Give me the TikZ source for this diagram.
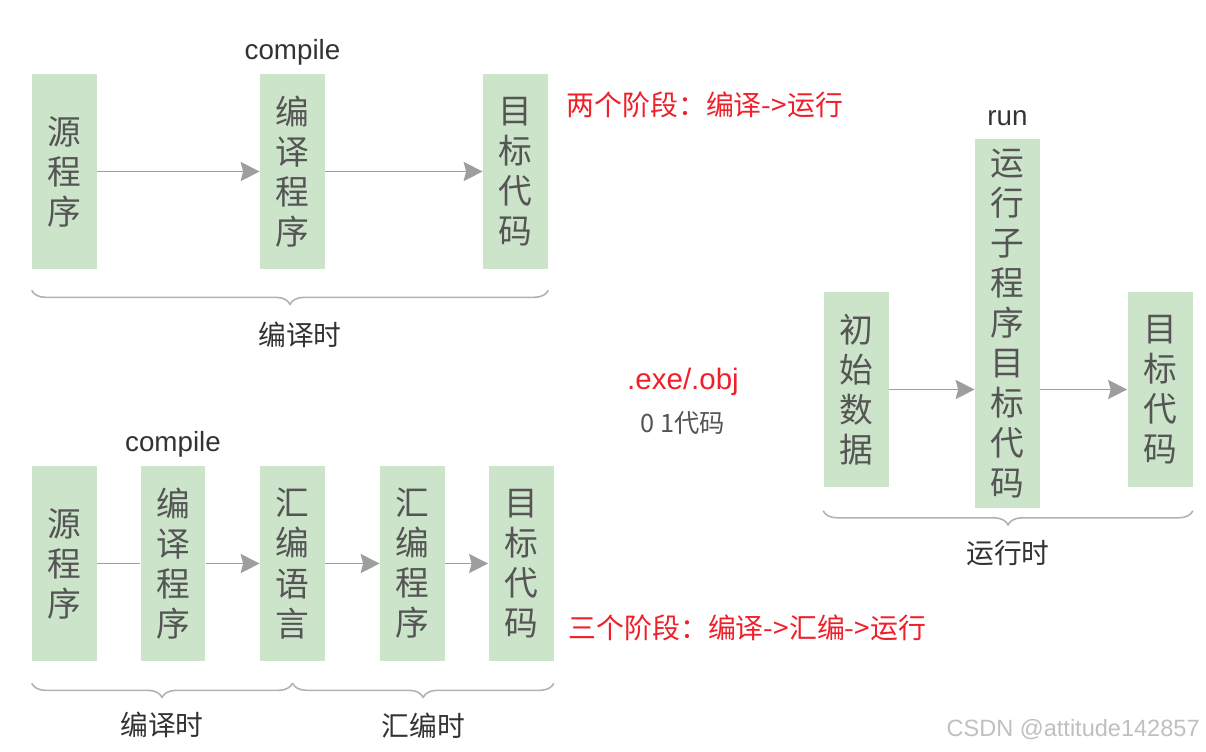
\documentclass[tikz,border=0pt]{standalone}
\usepackage{fontspec}
\setmainfont{Liberation Sans}
\newfontfamily\cjk{Noto Sans CJK SC}
\usetikzlibrary{arrows.meta,positioning,decorations.pathreplacing}
\definecolor{boxgreen}{RGB}{204,228,202}
\definecolor{boxtext}{RGB}{85,85,85}
\definecolor{arrowgray}{RGB}{158,158,158}
\definecolor{bracegray}{RGB}{178,178,178}
\definecolor{labeltext}{RGB}{51,51,51}
\definecolor{notered}{RGB}{240,32,42}
\definecolor{wmgray}{RGB}{192,192,192}

\begin{document}
\begin{tikzpicture}[x=0.02cm,y=-0.02cm,>={Stealth[length=0.38cm,width=0.38cm,inset=0.05cm]},
  stage/.style={fill=boxgreen,minimum width=1.3cm,minimum height=3.9cm,inner sep=0pt,align=center,text=boxtext,font=\cjk\fontsize{19.2}{22.8}\selectfont},
  flow/.style={->,draw=arrowgray,line width=1.1pt},
  span/.style={draw=bracegray,line width=0.9pt,decorate,decoration={brace,mirror,amplitude=0.28cm}},
  tag/.style={text=labeltext,font=\cjk\fontsize{15.8}{18}\selectfont},
  word/.style={text=labeltext,font=\fontsize{15.8}{19}\selectfont},
  note/.style={text=notered,inner sep=0pt,font=\cjk\fontsize{15.9}{19}\selectfont}]
\fill[white] (0,0) rectangle (1206,751);
\useasboundingbox (0,0) rectangle (1206,751);
% two stages
\node[stage] (src1) at (64.5,171.5) {源\\程\\序};
\node[stage] (comp1) at (292.5,171.5) {编\\译\\程\\序};
\node[stage] (obj1) at (515.5,171.5) {目\\标\\代\\码};
\node[word] (cl1) at ([yshift=0.42cm]comp1.north) {compile};
\draw[flow] (src1)--(comp1);
\draw[flow] (comp1)--(obj1);
\draw[span] ([yshift=-0.42cm]src1.south west)--([yshift=-0.42cm]obj1.south east) node[tag,midway,yshift=-0.9cm,xshift=0.2cm] (ct1) {编译时};
\node[note,anchor=west] (two) at (566,105) {两个阶段：编译->运行};
% three stages
\node[stage] (src2) at (64.5,563.5) {源\\程\\序};
\node[stage] (comp2) at (173,563.5) {编\\译\\程\\序};
\node[stage] (asm2) at (292.5,563.5) {汇\\编\\语\\言};
\node[stage] (assem2) at (412.5,563.5) {汇\\编\\程\\序};
\node[stage] (obj2) at (521,563.5) {目\\标\\代\\码};
\node[word] (cl2) at ([yshift=0.42cm]comp2.north) {compile};
\draw[draw=arrowgray,line width=1.1pt] (src2)--(comp2);
\draw[flow] (comp2)--(asm2);
\draw[flow] (asm2)--(assem2);
\draw[flow] (assem2)--(obj2);
\draw[span] ([yshift=-0.44cm]src2.south west)--([yshift=-0.44cm]asm2.south) node[tag,midway,yshift=-0.84cm] (ct2) {编译时};
\draw[span] ([yshift=-0.44cm]asm2.south)--([yshift=-0.44cm]obj2.south east) node[tag,midway,yshift=-0.84cm] (at2) {汇编时};
\node[note,anchor=west] (three) at (568,628) {三个阶段：编译->汇编->运行};
% output files
\node[text=notered,font=\fontsize{16.8}{20}\selectfont] (ext) at (683,382) {.exe/.obj};
\node[text=boxtext,font=\cjk\fontsize{14.4}{17}\selectfont] (bin) at (683,423) {0 1代码};
% run time
\node[stage] (init) at (856,389.5) {初\\始\\数\\据};
\node[stage,minimum height=7.38cm] (runsub) at (1007.5,323.5) {运\\行\\子\\程\\序\\目\\标\\代\\码};
\node[stage] (obj3) at (1160,389.5) {目\\标\\代\\码};
\node[word] (rl) at ([yshift=0.42cm]runsub.north) {run};
\draw[flow] (init.east)--(init.east -| runsub.west);
\draw[flow] (init.east -| runsub.east)--(obj3.west);
\draw[span] ([yshift=-0.05cm]init.south west |- runsub.south)--([yshift=-0.05cm]obj3.south east |- runsub.south) node[tag,midway,yshift=-0.84cm] (rt) {运行时};
\node[anchor=east,inner sep=0pt,text=wmgray,font=\fontsize{13.4}{16}\selectfont] (mark) at (1200,730) {CSDN @attitude142857};
\end{tikzpicture}
\end{document}
